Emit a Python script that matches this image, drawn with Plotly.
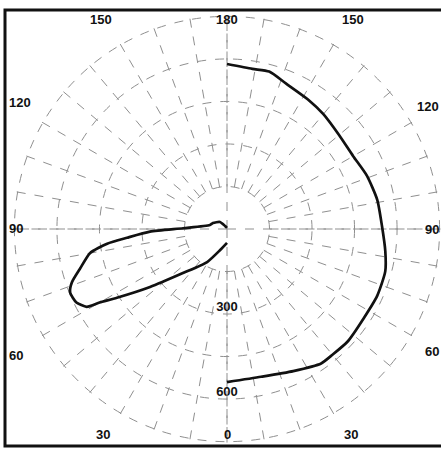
import numpy as np
import plotly.graph_objects as go

# ---- data ----
# angle convention: 0 at bottom, increasing counterclockwise (right half 0..180, left half 180..360)
right_theta = [0, 13, 25, 35, 40, 47, 57, 66, 75, 82, 91, 101, 111, 120, 130, 140, 148, 158, 165, 171, 180]
right_r = [540, 535, 553, 579, 579, 582, 576, 580, 578, 564, 547, 540, 528, 514, 516, 529, 539, 554, 575, 572, 582]

left_theta = [180, 212, 225, 247, 257, 269, 272, 275, 277, 280, 285, 289, 292, 296, 299, 300, 302, 307, 315, 329, 342, 360]
left_r = [4, 12, 35, 54, 62, 155, 272, 354, 426, 491, 536, 579, 597, 591, 566, 519, 458, 340, 220, 136, 78, 49]

angle_tickvals = [0, 30, 60, 90, 120, 150, 180, 210, 240, 270, 300, 330]
angle_ticktext = ["0", "30", "60", "90", "120", "150", "180", "150", "120", "90", "60", "30"]
radial_tickvals = [300, 600]
radial_ticktext = ["300", "600"]
grid_circles = [150, 300, 450, 600, 750]

R_MAX = 755       # radial range shown by the round grid

W, H = 441, 449
CX, CY, RP = 227, 229, 214   # polar centre (px from left/top) and radius in px
# distance in px from the centre to the inner edge of the frame-side labels
LAB_BOTTOM, LAB_TOP, LAB_LEFT, LAB_RIGHT = 214, 218, 219, 213

dom = dict(x=[(CX - RP) / W, min(1.0, (CX + RP) / W)],
           y=[(H - CY - RP) / H, (H - CY + RP) / H])
GRID_COLOR = "#8f8f8f"
FONT = dict(family="Liberation Sans", size=13, color="#111111", weight="bold")

fig = go.Figure()

# radial tick labels along the 0 direction (lower subplot, which carries the fine grid)
fig.add_trace(go.Scatterpolar(r=radial_tickvals, theta=[0] * len(radial_tickvals), mode="text",
                              subplot="polar", text=radial_ticktext, textposition="top center",
                              textfont=FONT, cliponaxis=False, hoverinfo="skip"))

# data curves (upper polar subplot)
fig.add_trace(go.Scatterpolar(r=right_r, theta=right_theta, mode="lines", subplot="polar2",
                              line=dict(color="#111111", width=2.7, shape="spline", smoothing=0.6),
                              hoverinfo="skip"))
fig.add_trace(go.Scatterpolar(r=left_r, theta=left_theta, mode="lines", subplot="polar2",
                              line=dict(color="#111111", width=2.7, shape="spline", smoothing=0.6),
                              hoverinfo="skip"))

# angular tick labels placed along the square frame
annotations = []
for val, txt in zip(angle_tickvals, angle_ticktext):
    t = np.radians(val)
    s, c = np.sin(t), np.cos(t)
    if abs(c) >= abs(s) - 1e-9:
        d = (LAB_BOTTOM if c > 0 else LAB_TOP) / abs(c)
        xa, ya = "center", ("bottom" if c > 0 else "top")
    else:
        d = (LAB_RIGHT if s > 0 else LAB_LEFT) / abs(s)
        xa, ya = ("right" if s > 0 else "left"), "middle"
    px, py = CX + d * s, CY + d * c
    annotations.append(dict(x=px / W, y=1 - py / H, xref="paper", yref="paper", text=txt,
                            showarrow=False, xanchor=xa, yanchor=ya, font=FONT, borderpad=0))

hole = grid_circles[0] / R_MAX
fig.update_layout(
    width=W, height=H,
    margin=dict(l=0, r=0, t=0, b=0),
    paper_bgcolor="white", plot_bgcolor="white",
    showlegend=False,
    annotations=annotations,
    # lower subplot: spokes every 10 degrees start at the first circle
    polar=dict(
        domain=dom, bgcolor="white", hole=hole,
        radialaxis=dict(range=[grid_circles[0], R_MAX], tickmode="array", tickvals=grid_circles[1:],
                        showticklabels=False, ticks="", showline=False,
                        gridcolor=GRID_COLOR, gridwidth=1, griddash="dash"),
        angularaxis=dict(rotation=270, direction="counterclockwise",
                         tickmode="linear", tick0=0, dtick=10,
                         showticklabels=False, ticks="", showline=False,
                         gridcolor=GRID_COLOR, gridwidth=1, griddash="dash"),
    ),
    # upper subplot: main axes through the centre, first circle, and the data
    polar2=dict(
        domain=dom, bgcolor="rgba(0,0,0,0)",
        radialaxis=dict(range=[0, R_MAX], tickmode="array", tickvals=grid_circles[:1],
                        showticklabels=False, ticks="", showline=False,
                        gridcolor=GRID_COLOR, gridwidth=1, griddash="dash"),
        angularaxis=dict(rotation=270, direction="counterclockwise",
                         tickmode="linear", tick0=0, dtick=90,
                         showticklabels=False, ticks="", showline=False,
                         gridcolor=GRID_COLOR, gridwidth=1, griddash="dash"),
    ),
    shapes=[dict(type="rect", xref="paper", yref="paper",
                 x0=5 / W, x1=450 / W, y0=3 / H, y1=(H - 10) / H,
                 line=dict(color="#111111", width=3), fillcolor="rgba(0,0,0,0)", layer="above")],
)

fig.write_html("out.html", config={"displayModeBar": False},
               post_script="document.body.style.margin='0';")
